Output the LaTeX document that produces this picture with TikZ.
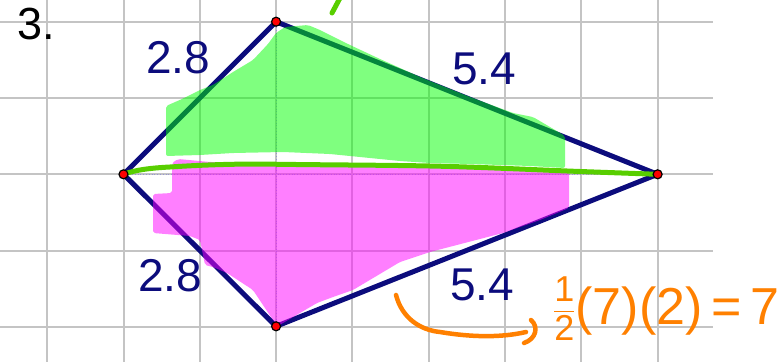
\documentclass[tikz,border=0pt]{standalone}
\usepackage{amsmath}
\usepackage{fontspec}
\setmainfont{Liberation Sans}
\definecolor{navyblue}{RGB}{12,12,124}
\definecolor{gridgray}{RGB}{196,196,196}
\definecolor{limeline}{RGB}{88,206,0}
\definecolor{handorange}{RGB}{255,128,0}
\definecolor{diagdot}{RGB}{150,150,210}
\tikzset{
  gridline/.style={draw=gridgray, line width=2pt},
  kiteedge/.style={draw=navyblue, line width=5pt, line join=round},
  diagline/.style={draw=diagdot, line width=0.8pt, dotted},
  greenhl/.style={fill={rgb,255:red,0;green,255;blue,0}, fill opacity=0.5, rounded corners=2pt},
  pinkhl/.style={fill={rgb,255:red,255;green,0;blue,255}, fill opacity=0.5, rounded corners=2pt},
  limestroke/.style={draw=limeline, line width=5pt, line cap=round, line join=round},
  orangestroke/.style={draw=handorange, line width=4.5pt, line cap=round, line join=round},
  vertexdot/.style={circle, fill=red, draw=black, line width=1.2pt, minimum size=9pt, inner sep=0pt},
  sidelabel/.style={text=navyblue, font=\fontsize{46}{46}\selectfont, inner sep=0pt},
  numlabel/.style={text=black, font=\fontsize{45}{45}\selectfont, inner sep=0pt},
  calclabel/.style={text=handorange, font=\fontsize{52}{52}\selectfont, inner sep=0pt}
}
\begin{document}
\begin{tikzpicture}[x=1pt,y=-1pt]
\useasboundingbox (0,0) rectangle (784,362);
% grid
\foreach \i in {-1,...,7}
  \draw[gridline] ({123.5+76.3*\i},0) -- ({123.5+76.3*\i},362);
\foreach \j in {-2,...,2}
  \draw[gridline] (0,{174.3+76.3*\j}) -- (713,{174.3+76.3*\j});
% vertices
\coordinate (L) at (123.5,174.3);
\coordinate (T) at (276.1,21.7);
\coordinate (R) at (657.6,174.3);
\coordinate (B) at (276.1,326.3);
% diagonals
\draw[diagline] (L) -- (R);
\draw[diagline] (T) -- (B);
% kite
\draw[kiteedge] (L) -- (T) -- (R) -- (B) -- cycle;
% green highlight
\fill[greenhl] (166,106) -- (182,99) -- (200,90) -- (213,85) -- (233,72) -- (253,60) -- (268,44) -- (276,33) -- (285,27) -- (308,25) -- (320,30) -- (350,45) -- (380,59) -- (420,77) -- (470,97) -- (513,113) -- (533,117) -- (550,127) -- (565,136) -- (565,168) -- (530,166) -- (470,164) -- (430,163) -- (400,161) -- (360,157) -- (330,154) -- (283,152) -- (233,153) -- (200,155) -- (166,156) -- cycle;
% magenta highlight
\fill[pinkhl] (172,163) -- (178,159) -- (210,162) -- (280,163) -- (350,164) -- (430,165) -- (500,168) -- (569,172) -- (569,208) -- (540,220) -- (503,233) -- (430,252) -- (400,262) -- (353,290) -- (333,297) -- (317,303) -- (300,313) -- (278,326) -- (273,320) -- (253,290) -- (227,273) -- (213,267) -- (205,265) -- (200,240) -- (190,236) -- (153,233) -- (153,194) -- (172,193) -- cycle;
% green split line
\draw[limestroke] (L) .. controls (135,170) and (150,168) .. (170,167) .. controls (200,165) and (230,164) .. (260,164) .. controls (320,165) and (380,165) .. (430,166) .. controls (480,167) and (540,170) .. (580,171.5) -- (R);
% green 7 fragment at top
\draw[limestroke] (340,-2) -- (332,13);
% vertex dots
\node[vertexdot] (pL) at (L) {};
\node[vertexdot] (pT) at (T) {};
\node[vertexdot] (pR) at (R) {};
\node[vertexdot] (pB) at (B) {};
% labels
\node[numlabel] (num) at (36,24) {3.};
\node[sidelabel] (s1) at (178,58) {2.8};
\node[sidelabel] (s2) at (170,276) {2.8};
\node[sidelabel] (s3) at (484,69) {5.4};
\node[sidelabel] (s4) at (482,285) {5.4};
% orange annotation
\node[calclabel, anchor=base west] (calc) at (553,324) {\raisebox{6pt}{\fontsize{36}{36}\selectfont\(\dfrac{\text{1}}{\text{2}}\)}(7)(2)\,=\,7};
\coordinate (arrstart) at (396,295);
\coordinate (arrend) at (526,332);
\draw[orangestroke] (arrstart) .. controls (402,318) and (420,330) .. (440,332) .. controls (470,337) and (500,338) .. (arrend);
\draw[orangestroke] (531,320) .. controls (539,327) and (536,339) .. (524,343);
\end{tikzpicture}
\end{document}
